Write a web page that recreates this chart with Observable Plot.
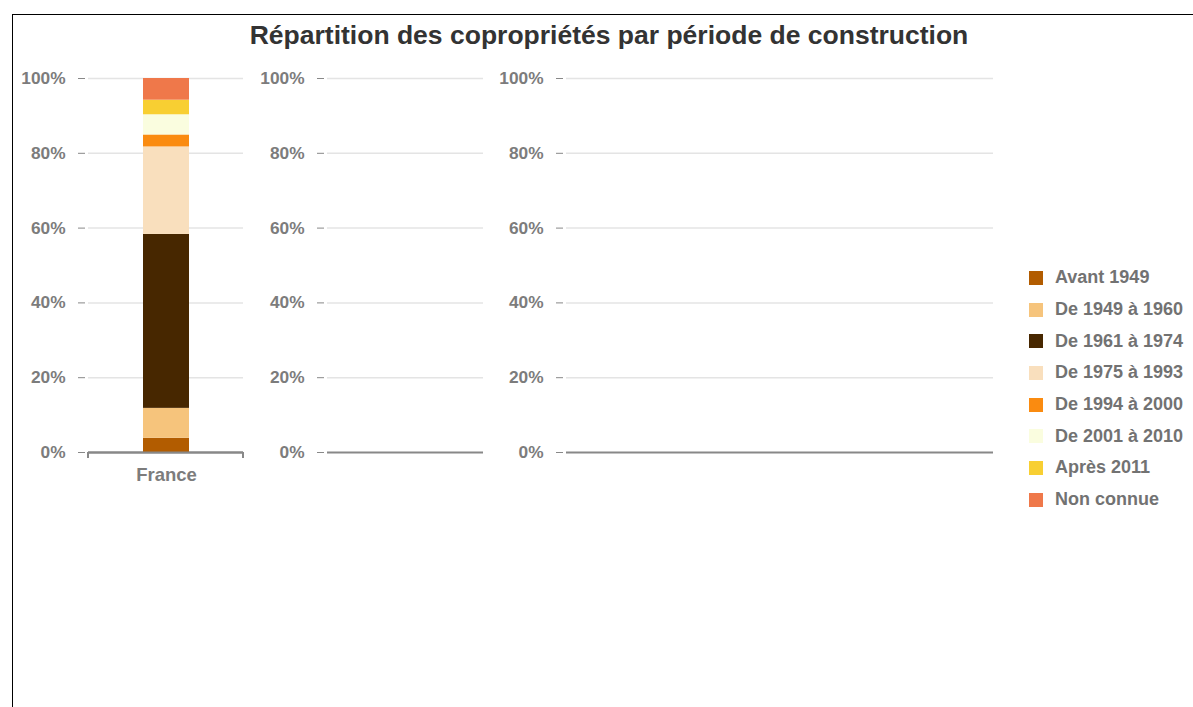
<!DOCTYPE html>
<html><head><meta charset="utf-8">
<script src="https://cdn.jsdelivr.net/npm/d3@7"></script>
<script src="https://cdn.jsdelivr.net/npm/@observablehq/plot@0.6"></script>
<style>
body{margin:0;background:#fff;font-family:"Liberation Sans",Arial,sans-serif;}
#wrap{position:relative;width:1193px;height:707px;overflow:hidden;background:#fff;}
#border{position:absolute;left:12px;top:14px;width:1300px;height:800px;border-left:1px solid #000;border-top:1px solid #000;}
#title{position:absolute;left:12px;width:1194px;top:22px;line-height:26px;text-align:center;font-size:26.5px;font-weight:bold;color:#333;}
.panel{position:absolute;top:0;}
#legend{position:absolute;left:1029px;top:262px;}
.row{height:31.7px;display:flex;align-items:center;font-size:18px;font-weight:bold;color:#727272;white-space:nowrap;}
.sw{width:14px;height:14px;margin-right:12px;box-sizing:border-box;}
</style></head>
<body>
<div id="wrap">
  <div id="border"></div>
  <div id="title"></div>
  <div id="p1" class="panel" style="left:0px"></div>
  <div id="p2" class="panel" style="left:250px"></div>
  <div id="p3" class="panel" style="left:490px"></div>
  <div id="legend"></div>
</div>
<script>
const titleText = "Répartition des copropriétés par période de construction";
const categories = ["France"];
const periods = ["Avant 1949", "De 1949 à 1960", "De 1961 à 1974", "De 1975 à 1993", "De 1994 à 2000", "De 2001 à 2010", "Après 2011", "Non connue"];
const shares = [3.8, 8.0, 46.5, 23.4, 3.2, 5.4, 3.9, 5.8];
const colors = ["#b25c00", "#f6c47c", "#472700", "#f9dfbd", "#fa8b10", "#fafddf", "#f8cf32", "#ef784a"];
const yTicks = [0, 20, 40, 60, 80, 100];

document.getElementById("title").textContent = titleText;

const rows = periods.map((p, i) => ({category: categories[0], period: p, value: shares[i]}));

const svgStyle = {fontFamily: "'Liberation Sans', Arial, sans-serif", fontSize: "17.3px", fontWeight: "bold", color: "#7c7c7c", background: "transparent", maxWidth: "none", overflow: "visible"};

function commonMarks() {
  return [
    Plot.gridY({ticks: yTicks.filter(v => v > 0), stroke: "#e4e4e4", strokeOpacity: 1, strokeWidth: 1.5}),
    Plot.axisY({ticks: yTicks, tickFormat: d => d + "%", tickSize: 7, tickPadding: 13, dx: -3, stroke: "#888", fill: "#7c7c7c"}),
    Plot.ruleY([0], {stroke: "#888", strokeWidth: 2})
  ];
}

const endCaps = (index, scales, values, dims) => {
  const g = d3.create("svg:g").attr("stroke", "#888").attr("stroke-width", 2);
  const y0 = scales.y(0);
  for (const x of [dims.marginLeft, dims.width - dims.marginRight]) {
    g.append("line").attr("x1", x).attr("x2", x).attr("y1", y0).attr("y2", y0 + 6);
  }
  return g.node();
};

const p1 = Plot.plot({
  width: 250, height: 490,
  marginLeft: 88, marginRight: 7, marginTop: 78, marginBottom: 38,
  style: svgStyle,
  x: {domain: categories, padding: 0.542, label: null},
  y: {domain: [0, 100], label: null},
  color: {domain: periods, range: colors},
  marks: [
    ...commonMarks(),
    Plot.barY(rows, {x: "category", y: "value", fill: "period"}),
    Plot.ruleY([0], {stroke: "#888", strokeWidth: 2}),
    endCaps,
    Plot.axisX({tickSize: 0, tickPadding: 15, fontSize: 18.5, fill: "#7c7c7c"})
  ]
});
document.getElementById("p1").append(p1);

function emptyPanel(width, marginLeft) {
  return Plot.plot({
    width, height: 490,
    marginLeft, marginRight: 7, marginTop: 78, marginBottom: 38,
    style: svgStyle,
    y: {domain: [0, 100], label: null},
    marks: commonMarks()
  });
}
document.getElementById("p2").append(emptyPanel(240, 77));
document.getElementById("p3").append(emptyPanel(510, 76));

const legend = document.getElementById("legend");
periods.forEach((p, i) => {
  const row = document.createElement("div");
  row.className = "row";
  const sw = document.createElement("div");
  sw.className = "sw";
  sw.style.background = colors[i];
  const t = document.createElement("span");
  t.textContent = p;
  row.append(sw, t);
  legend.append(row);
});
</script>
</body></html>
